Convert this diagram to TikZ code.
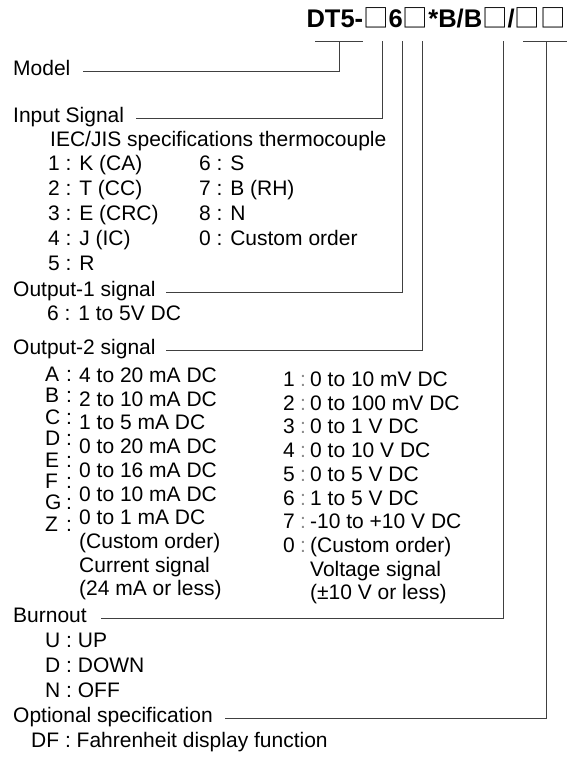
\documentclass[tikz,border=0pt]{standalone}
\usepackage{fontspec}
\setmainfont{Liberation Sans}
\newfontfamily\cjk{Noto Sans CJK SC}
\newcommand{\sq}{{\cjk\mdseries □}}

\begin{document}
\begin{tikzpicture}[x=1pt, y=-1pt, font=\fontsize{21}{25}\selectfont,
		lbl/.style={anchor=base west, inner sep=0pt, text height=13pt, text depth=5pt},
		wire/.style={draw=black!75, line width=0.9pt},
		faint/.style={lbl, text=black!45}]
			\useasboundingbox (0,0) rectangle (567,758);
			\node[lbl, anchor=base east, font=\fontsize{25.5}{28}\selectfont\bfseries] (code) at (566,27) {DT5-\sq6\sq*B/B\sq/\sq\sq};
			\coordinate (tmL) at (315,41);
			\coordinate (tmR) at (363,41);
			\coordinate (tm) at (339,41);
			\coordinate (tin) at (382,41);
			\coordinate (tout1) at (402,41);
			\coordinate (tout2) at (422,41);
			\coordinate (tbo) at (503,41);
			\coordinate (toptL) at (523,41);
			\coordinate (toptR) at (567,41);
			\coordinate (topt) at (546,41);

			\node[lbl] (model) at (13,75) {Model};
			\node[lbl] (input) at (13,122) {Input Signal};
			\node[lbl] (iec) at (50,146) {IEC/JIS specifications thermocouple};
			\foreach \t [count=\i] in {{1 : K (CA)},{2 : T (CC)},{3 : E (CRC)},{4 : J (IC)},{5 : R}}
			\node[lbl] (tcA\i) at (48,146+24.8*\i) {\t};
			\foreach \t [count=\i] in {{6 : S},{7 : B (RH)},{8 : N},{0 : Custom order}}
			\node[lbl] (tcB\i) at (199,146+24.8*\i) {\t};

			\node[lbl] (out1) at (13,296) {Output-1 signal};
			\node[lbl] (o1v) at (47,320) {6 : 1 to 5V DC};

			\node[lbl] (out2) at (13,354) {Output-2 signal};
			\foreach \t [count=\i] in {A,B,C,D,E,F,G,Z}
			{
				\node[lbl] (cl\i) at (45,360.1+21.4*\i) {\t};
				\node[lbl] (cc\i) at (66,360.1+21.4*\i) {:};
			}
			\foreach \t [count=\i] in {{4 to 20 mA DC},{2 to 10 mA DC},{1 to 5 mA DC},{0 to 20 mA DC},{0 to 16 mA DC},{0 to 10 mA DC},{0 to 1 mA DC},{(Custom order)},{Current signal},{(24 mA or less)}}
			\node[lbl] (cv\i) at (79,358.8+23.7*\i) {\t};
			\foreach \t [count=\i] in {1,2,3,4,5,6,7,0}
			{
				\node[lbl] (vl\i) at (283,362.8+23.7*\i) {\t};
				\node[faint] (vc\i) at (300,362.8+23.7*\i) {:};
			}
			\foreach \t [count=\i] in {{0 to 10 mV DC},{0 to 100 mV DC},{0 to 1 V DC},{0 to 10 V DC},{0 to 5 V DC},{1 to 5 V DC},{-10 to +10 V DC},{(Custom order)},{Voltage signal},{(±10 V or less)}}
			\node[lbl] (vv\i) at (310,362.8+23.7*\i) {\t};

			\node[lbl] (burn) at (13,622) {Burnout};
			\foreach \t [count=\i] in {{U : UP},{D : DOWN},{N : OFF}}
			\node[lbl] (bo\i) at (45,622+25*\i) {\t};

			\node[lbl] (opt) at (13,722) {Optional specification};
			\node[lbl] (df) at (31,747) {DF : Fahrenheit display function};

			\draw[wire] (tmL) -- (tmR);
			\draw[wire] (tm) |- ([xshift=12pt]model.east);
			\draw[wire] (tin) |- ([xshift=12pt]input.east);
			\draw[wire] (tout1) |- ([xshift=10pt]out1.east);
			\draw[wire] (tout2) |- ([xshift=10pt]out2.east);
			\draw[wire] (tbo) |- ([xshift=14pt]burn.east);
			\draw[wire] (toptL) -- (toptR);
			\draw[wire] (topt) |- ([xshift=12pt]opt.east);
\end{tikzpicture}
\end{document}
